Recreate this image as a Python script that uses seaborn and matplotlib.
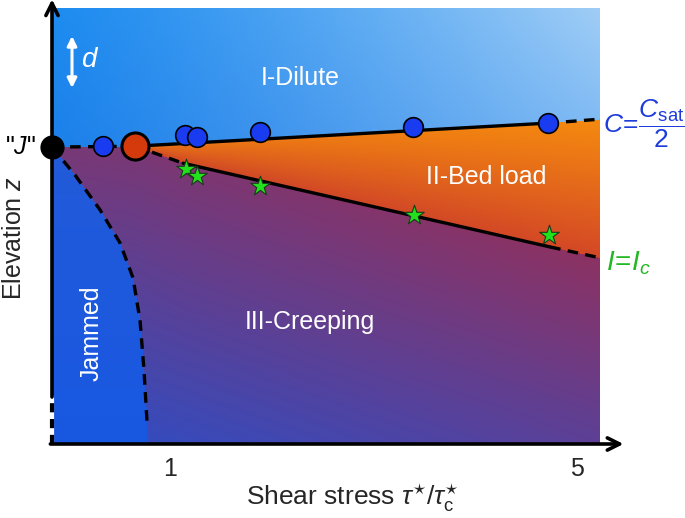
import numpy as np
import pandas as pd

import matplotlib

matplotlib.use('Agg')
import matplotlib.pyplot as plt
import seaborn as sns

# ==========================================
# 0. style
# ==========================================
sns.set_theme(style="white")
plt.rcParams['font.family'] = ['Liberation Sans', 'DejaVu Sans']
plt.rcParams['mathtext.fontset'] = 'custom'
plt.rcParams['mathtext.rm'] = 'Liberation Sans'
plt.rcParams['mathtext.it'] = 'Liberation Sans:italic'
plt.rcParams['mathtext.bf'] = 'Liberation Sans:bold'

# ==========================================
# 1. data
# ==========================================
tau_min, tau_max = -0.16, 5.226
xticks = [1, 5]

tau_J, z_J = -0.16, 0.681
tau_red, z_red = 0.656, 0.683

tau_blue = [0.342, 1.147, 1.265, 1.885, 3.388, 4.715]
z_blue = [0.683, 0.709, 0.704, 0.716, 0.727, 0.736]

tau_star = [1.157, 1.265, 1.885, 3.398, 4.725]
z_star = [0.631, 0.615, 0.592, 0.525, 0.479]

# upper boundary  C = Csat/2
tau_up_solid = [0.656, 4.715]
z_up_solid = [0.683, 0.736]
tau_up_dash = [4.715, 5.226]
z_up_dash = [0.736, 0.745]

# J -> red point
tau_J_dash = [-0.16, 0.656]
z_J_dash = [0.681, 0.683]

# lower boundary  I = Ic
tau_low_dash1 = [0.656, 1.128]
z_low_dash1 = [0.683, 0.644]
tau_low_solid = [1.128, 4.735]
z_low_solid = [0.644, 0.452]
tau_low_dash2 = [4.735, 5.226]
z_low_dash2 = [0.452, 0.427]

# jammed boundary
tau_jam = [-0.16, 0.066, 0.312, 0.509, 0.636, 0.705, 0.744, 0.774]
z_jam = [0.681, 0.617, 0.537, 0.461, 0.381, 0.284, 0.170, 0.050]

# ==========================================
# 2. figure
# ==========================================
W, H = 685, 518
fig = plt.figure(figsize=(W / 100, H / 100), dpi=100)
ax = fig.add_axes([52 / W, 74 / H, 548 / W, 436 / H])
ax.set_xlim(tau_min, tau_max)
ax.set_ylim(0, 1)

# background gradient built from the boundaries
nx, nz = 548, 436
X, Z = np.meshgrid(np.linspace(tau_min, tau_max, nx), np.linspace(0, 1, nz))
U = (X - tau_min) / (tau_max - tau_min)

up = np.interp(X, [tau_J] + tau_up_solid + tau_up_dash[1:], [z_J] + z_up_solid + z_up_dash[1:])
low = np.interp(X, [tau_J] + tau_low_dash1 + tau_low_solid[1:] + tau_low_dash2[1:],
                [z_J] + z_low_dash1 + z_low_solid[1:] + z_low_dash2[1:])
xjam = np.interp(Z, z_jam[::-1], tau_jam[::-1])


def bilin(u, v, bl, br, tl, tr):
    bl, br, tl, tr = [np.array(c, float)[None, None, :] / 255 for c in (bl, br, tl, tr)]
    u = u[..., None]
    v = v[..., None]
    return (1 - u) * (1 - v) * bl + u * (1 - v) * br + (1 - u) * v * tl + u * v * tr


img = np.zeros((nz, nx, 3))
# I-Dilute
v1 = np.clip((Z - up) / (1 - up), 0, 1)
c1 = bilin(U ** 1.2, v1, (28, 128, 234), (130, 188, 244), (30, 140, 240), (160, 205, 246))
# II-Bed load
v2 = np.clip((Z - low) / np.maximum(up - low, 1e-3), 0, 1)
c2 = bilin(U, v2, (205, 70, 40), (212, 72, 38), (232, 110, 22), (245, 138, 15))
# III-Creeping
v3 = np.clip(Z / np.maximum(low, 1e-3), 0, 1)
c3 = bilin(U, v3, (45, 78, 198), (92, 64, 150), (120, 56, 118), (140, 50, 98))
# Jammed
c4 = bilin(U, Z, (24, 88, 226), (24, 88, 226), (40, 92, 212), (40, 92, 212))

m1 = Z >= up
m2 = (Z < up) & (Z >= low)
m4 = (Z < low) & (X <= xjam)
m3 = (Z < low) & ~m4
img[m1] = c1[m1]
img[m2] = c2[m2]
img[m3] = c3[m3]
img[m4] = c4[m4]
ax.imshow(img, origin='lower', extent=[tau_min, tau_max, 0, 1], aspect='auto', zorder=0,
          interpolation='bilinear')

# ==========================================
# 3. boundaries and points
# ==========================================
lw = 2.4
dash = (0, (3.2, 2.2))
sns.lineplot(x=tau_up_solid, y=z_up_solid, color='black', lw=lw, sort=False, estimator=None, ax=ax, zorder=3)
sns.lineplot(x=tau_low_solid, y=z_low_solid, color='black', lw=lw, sort=False, estimator=None, ax=ax, zorder=3)
for tx, tz in [(tau_up_dash, z_up_dash), (tau_J_dash, z_J_dash), (tau_low_dash1, z_low_dash1),
               (tau_low_dash2, z_low_dash2), (tau_jam, z_jam)]:
    sns.lineplot(x=tx, y=tz, color='black', lw=lw, linestyle=dash, sort=False, estimator=None,
                 ax=ax, zorder=3)

sns.scatterplot(x=tau_blue, y=z_blue, color='#1a3cf0', edgecolor='black', linewidth=1.2, s=200,
                ax=ax, zorder=5)
sns.scatterplot(x=tau_star, y=z_star, color='#22e01e', edgecolor='#1a3a1a', linewidth=0.8, s=220,
                marker='*', ax=ax, zorder=5)
sns.scatterplot(x=[tau_red], y=[z_red], color='#d43a0c', edgecolor='black', linewidth=2.2, s=380,
                ax=ax, zorder=6)
sns.scatterplot(x=[tau_J], y=[z_J], color='black', edgecolor='black', s=260, ax=ax, zorder=7,
                clip_on=False)

# ==========================================
# 4. axes (arrows)
# ==========================================
for s in ax.spines.values():
    s.set_visible(False)
zd = 47 / 436
ax.plot([0, 0], [0, zd], transform=ax.transAxes, color='white', lw=3, clip_on=False, zorder=8)
ax.plot([0, 0], [0, zd], transform=ax.transAxes, color='black', lw=3, linestyle=(0, (2.2, 1.6)),
        clip_on=False, zorder=9)
ax.annotate('', xy=(0, 1.02), xytext=(0, zd), xycoords='axes fraction',
            arrowprops=dict(arrowstyle='->', lw=2.6, color='black', mutation_scale=22,
                            shrinkA=0, shrinkB=0), zorder=9)
ax.annotate('', xy=(1.043, 0), xytext=(-0.003, 0), xycoords='axes fraction',
            arrowprops=dict(arrowstyle='->', lw=2.6, color='black', mutation_scale=22,
                            shrinkA=0, shrinkB=0), zorder=9)

ax.set_yticks([])
ax.set_xticks(xticks)
ax.set_xticklabels([str(t) for t in xticks], fontsize=18)
ax.tick_params(axis='x', length=0, pad=9)
ax.set_xlabel('')
ax.set_ylabel('')

fig.text(352 / W, 1 - 497 / H, r'Shear stress $\tau^{\star}/\tau_{\rm c}^{\star}$', fontsize=19,
         ha='center', va='center')
fig.text(14 / W, 1 - 238 / H, 'Elevation $z$', fontsize=18, rotation=90, ha='center', va='center')


def fx(px):
    return (px - 52) / 548


def fy(py):
    return (444 - py) / 436


ax.text(fx(300), fy(78), 'I-Dilute', color='white', fontsize=18, ha='center', va='center',
        transform=ax.transAxes)
ax.text(fx(486), fy(177), 'II-Bed load', color='white', fontsize=18, ha='center', va='center',
        transform=ax.transAxes)
ax.text(fx(310), fy(322), 'III-Creeping', color='white', fontsize=18, ha='center', va='center',
        transform=ax.transAxes)
ax.text(fx(92), fy(333), 'Jammed', color='white', fontsize=18, ha='center', va='center',
        rotation=90, transform=ax.transAxes)
ax.text(fx(90), fy(60), '$d$', color='white', fontsize=20, ha='center', va='center',
        transform=ax.transAxes)
ax.annotate('', xy=(fx(72), fy(36)), xytext=(fx(72), fy(88)), xycoords='axes fraction',
            arrowprops=dict(arrowstyle='<|-|>', lw=2.2, color='white', mutation_scale=14,
                            shrinkA=0, shrinkB=0))
ax.text(fx(20), fy(147), '"$J$"', color='black', fontsize=18, ha='center', va='center',
        transform=ax.transAxes)
ax.text(fx(603), fy(124), r'$C\!=\!\dfrac{C_{\rm sat}}{2}$', color='#1e3cdc', fontsize=19,
        ha='left', va='center', transform=ax.transAxes)
ax.text(fx(606), fy(263), r'$I\!=\!I_c$', color='#22b822', fontsize=20, ha='left', va='center',
        transform=ax.transAxes)

plt.savefig('out.png', dpi=100)
plt.close()
